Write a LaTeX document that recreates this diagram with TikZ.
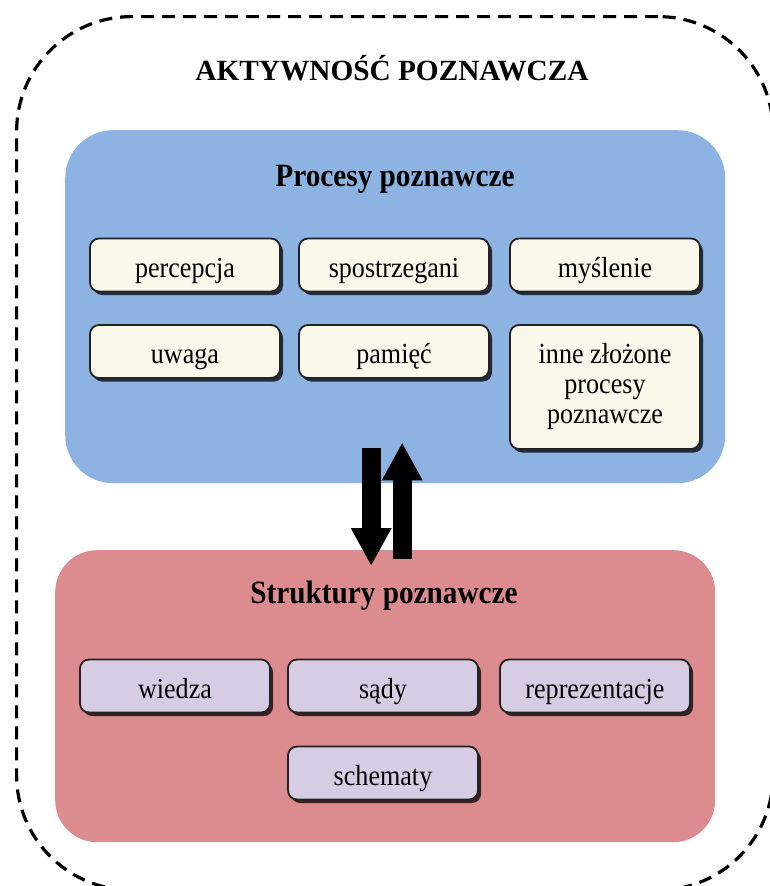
\documentclass[tikz,border=0pt]{standalone}
\usepackage{fontspec}
\setmainfont{Liberation Serif}
\newfontfamily\narrowserif{Liberation Serif}[FakeStretch=0.9]
\usetikzlibrary{arrows.meta,shadows}

\definecolor{procblue}{HTML}{8DB3E2}
\definecolor{structred}{HTML}{DC8C8E}
\definecolor{itemcream}{HTML}{FAF8EA}
\definecolor{itemlilac}{HTML}{D6CDE4}
\definecolor{edgedark}{HTML}{222222}

\begin{document}
\begin{tikzpicture}[x=1pt,y=-1pt,
  frame/.style={draw=black, line width=3.2pt, dash pattern=on 13pt off 8pt,
    rounded corners=115pt, anchor=north west, inner sep=0pt},
  panel/.style={draw=none, rounded corners=#1, anchor=north west, inner sep=0pt},
  heading/.style={anchor=base, font=\narrowserif\bfseries\fontsize{32.5}{36}\selectfont, text=black},
  item/.style={draw=edgedark, line width=1.8pt, rounded corners=9pt,
    minimum width=190pt, minimum height=53pt, inner sep=2pt, align=center,
    text height=30pt, text depth=6pt,
    font=\narrowserif\fontsize{29}{30}\selectfont, text=black,
    drop shadow={shadow xshift=3pt, shadow yshift=-3.5pt, fill=black, opacity=0.75}},
  flowarrow/.style={line width=19pt, black, -{Triangle[width=38pt,length=38pt]}}
]
\useasboundingbox (0,0) rectangle (769,886);

% outer dashed frame (right and bottom sides run just past the page edge)
\node[frame, minimum width=756.5pt, minimum height=873.5pt] (frame) at (15,15) {};
\node[anchor=base, font=\bfseries\fontsize{29.3}{34}\selectfont] (maintitle) at (392,80) {AKTYWNOŚĆ POZNAWCZA};

% cognitive processes panel
\node[panel=48pt, fill=procblue, minimum width=660pt, minimum height=353pt] (proc) at (65,130) {};
\node[heading] (proctitle) at (395,186) {Procesy poznawcze};

\node[item, fill=itemcream] (percepcja) at (185,265) {percepcja};
\node[item, fill=itemcream] (spostrz) at (394,265) {spostrzegani};
\node[item, fill=itemcream] (myslenie) at (605,265) {myślenie};
\node[item, fill=itemcream] (uwaga) at (185,351.5) {uwaga};
\node[item, fill=itemcream] (pamiec) at (394,351.5) {pamięć};
\node[item, fill=itemcream, minimum height=124pt, text height=, text depth=] (inne) at (605,387)
  {inne złożone\\procesy\\poznawcze};

% cognitive structures panel
\node[panel=42pt, fill=structred, minimum width=660pt, minimum height=292pt] (strukt) at (55,550) {};
\node[heading] (strukttitle) at (384,603) {Struktury poznawcze};

\node[item, fill=itemlilac] (wiedza) at (175,686) {wiedza};
\node[item, fill=itemlilac] (sady) at (383,686) {sądy};
\node[item, fill=itemlilac] (repr) at (595,686) {reprezentacje};
\node[item, fill=itemlilac] (schematy) at (383,773) {schematy};

% two-way flow between the panels
\draw[flowarrow] ([xshift=-24pt,yshift=35pt]proc.south) -- ([xshift=-14pt,yshift=-16pt]strukt.north);
\draw[flowarrow] ([xshift=17pt,yshift=-9pt]strukt.north) -- ([xshift=7pt,yshift=41pt]proc.south);
\end{tikzpicture}
\end{document}
